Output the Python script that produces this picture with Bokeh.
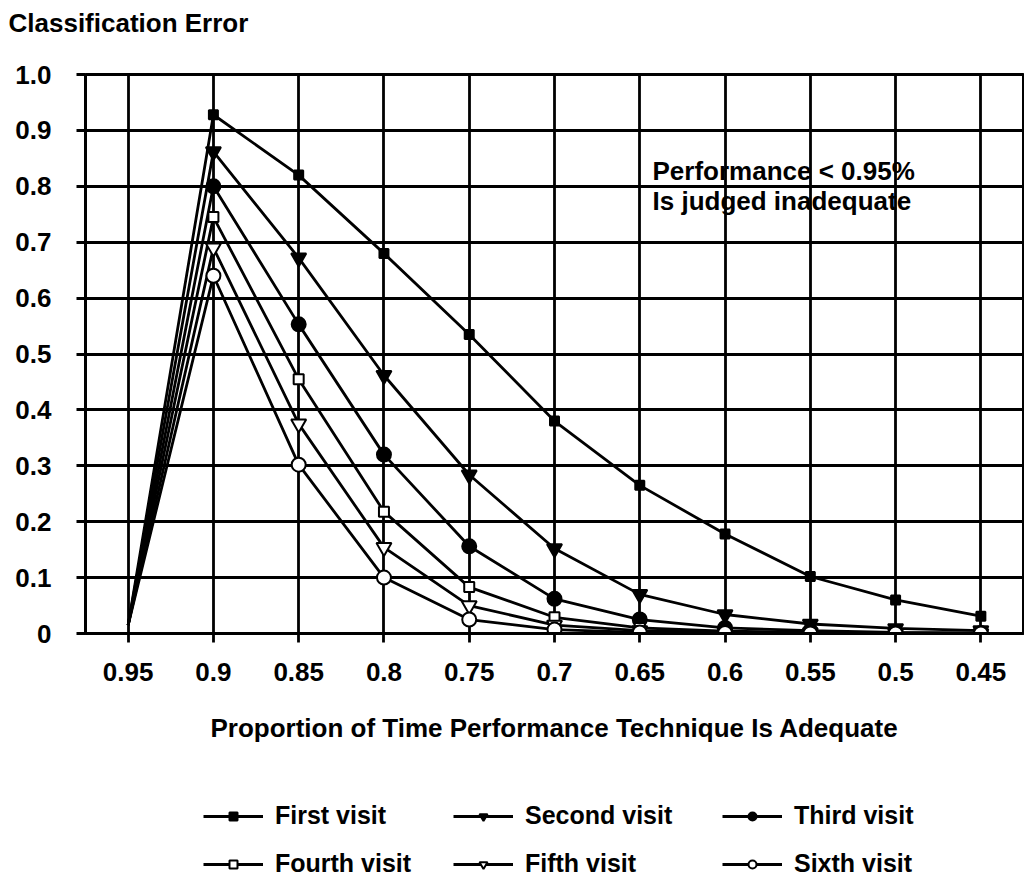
from bokeh.plotting import figure
from bokeh.layouts import column
from bokeh.models import Label, Legend, LegendItem, FixedTicker, Range1d
from bokeh.embed import file_html
from bokeh.resources import INLINE

# ---- data ----
x_labels = ["0.95", "0.9", "0.85", "0.8", "0.75", "0.7", "0.65", "0.6", "0.55", "0.5", "0.45"]
y_ticks = [0, 0.1, 0.2, 0.3, 0.4, 0.5, 0.6, 0.7, 0.8, 0.9, 1.0]
y_tick_labels = ["0", "0.1", "0.2", "0.3", "0.4", "0.5", "0.6", "0.7", "0.8", "0.9", "1.0"]

first_visit = [0.015, 0.928, 0.820, 0.680, 0.535, 0.380, 0.265, 0.178, 0.102, 0.060, 0.031]
second_visit = [0.015, 0.862, 0.672, 0.462, 0.284, 0.152, 0.070, 0.034, 0.017, 0.009, 0.005]
third_visit = [0.015, 0.800, 0.553, 0.320, 0.156, 0.062, 0.025, 0.010, 0.005, 0.002, 0.001]
fourth_visit = [0.015, 0.745, 0.455, 0.218, 0.083, 0.029, 0.010, 0.004, 0.002, 0.001, 0.000]
fifth_visit = [0.015, 0.690, 0.375, 0.154, 0.050, 0.015, 0.005, 0.002, 0.001, 0.000, 0.000]
sixth_visit = [0.015, 0.640, 0.302, 0.100, 0.025, 0.007, 0.002, 0.001, 0.000, 0.000, 0.000]

series_names = ["First visit", "Second visit", "Third visit",
                "Fourth visit", "Fifth visit", "Sixth visit"]
series_values = [first_visit, second_visit, third_visit,
                 fourth_visit, fifth_visit, sixth_visit]

title_text = "Classification Error"
x_axis_title = "Proportion of Time Performance Technique Is Adequate"
note_lines = ["Performance < 0.95%", "Is judged inadequate"]

# ---- styles ----
FONT = "Liberation Sans"
marker_styles = [
    dict(marker="square", size=9, fill_color="black"),
    dict(marker="inverted_triangle", size=15, fill_color="black"),
    dict(marker="circle", size=14, fill_color="black"),
    dict(marker="square", size=10, fill_color="white"),
    dict(marker="inverted_triangle", size=15, fill_color="white"),
    dict(marker="circle", size=14, fill_color="white"),
]


def blank_strip(height, border_top):
    f = figure(width=1024, height=height, output_backend="svg",
               toolbar_location=None, x_axis_type=None, y_axis_type=None,
               min_border_left=0, min_border_right=0,
               min_border_top=border_top, min_border_bottom=0)
    f.outline_line_color = None
    f.grid.visible = False
    f.background_fill_color = "white"
    f.border_fill_color = "white"
    return f


# ---- header strip with the chart title ----
t = blank_strip(45, 44)
t.title.text = title_text
t.title.align = "left"
t.title.vertical_align = "top"
t.title.offset = -77
t.title.standoff = 10
t.title.text_font = FONT
t.title.text_font_size = "26px"
t.title.text_font_style = "bold"
t.title.text_color = "black"

# ---- main chart ----
p = figure(x_range=x_labels, y_range=(0, 1), width=1024, height=718,
           output_backend="svg", toolbar_location=None,
           min_border_left=85, min_border_right=1, min_border_top=29,
           min_border_bottom=130)
p.background_fill_color = "white"
p.border_fill_color = "white"
p.outline_line_color = "black"
p.outline_line_width = 3
p.outline_line_alpha = 1.0

for g in (p.xgrid, p.ygrid):
    g.grid_line_color = "black"
    g.grid_line_width = 2.8
    g.grid_line_alpha = 1.0

p.yaxis.ticker = FixedTicker(ticks=y_ticks)
p.yaxis.major_label_overrides = dict(zip(y_ticks, y_tick_labels))
for ax in (p.xaxis, p.yaxis):
    ax.axis_line_color = "black"
    ax.axis_line_width = 3
    ax.major_tick_line_color = "black"
    ax.major_tick_line_width = 2.8
    ax.major_tick_in = 0
    ax.major_tick_out = 9
    ax.minor_tick_line_color = None
    ax.major_label_text_font = FONT
    ax.major_label_text_font_size = "26px"
    ax.major_label_text_font_style = "bold"
    ax.major_label_text_color = "black"
p.xaxis.major_label_standoff = 20
p.yaxis.major_label_standoff = 25
p.xaxis.axis_label = x_axis_title
p.xaxis.axis_label_text_font = FONT
p.xaxis.axis_label_text_font_size = "26px"
p.xaxis.axis_label_text_font_style = "bold"
p.xaxis.axis_label_text_color = "black"
p.xaxis.axis_label_standoff = 29

for name, vals, ms in zip(series_names, series_values, marker_styles):
    p.line(x_labels, vals, line_color="black", line_width=2.8)
    p.scatter(x_labels[1:], vals[1:], marker=ms["marker"], size=ms["size"],
              fill_color=ms["fill_color"], line_color="black", line_width=2)

for k, line in enumerate(note_lines):
    p.add_layout(Label(x=567, y=463 - 30 * k, x_units="screen", y_units="screen",
                       text=line, text_font=FONT, text_font_size="26px",
                       text_font_style="bold", text_color="black",
                       text_align="left", text_baseline="middle"))

# ---- legend strip under the chart (hidden proxies of the same series) ----
q = figure(x_range=x_labels, y_range=Range1d(0, 1), width=1024, height=118,
           output_backend="svg", toolbar_location=None,
           x_axis_type=None, y_axis_type=None,
           min_border_left=0, min_border_right=0, min_border_top=0,
           min_border_bottom=0)
q.outline_line_color = None
q.grid.visible = False
q.background_fill_color = "white"
q.border_fill_color = "white"

items = []
for name, vals, ms in zip(series_names, series_values, marker_styles):
    ln = q.line(x_labels, vals, line_color="black", line_width=2.8, visible=False)
    sc = q.scatter(x_labels[1:], vals[1:], marker=ms["marker"], size=ms["size"],
                   fill_color=ms["fill_color"], line_color="black", line_width=2,
                   visible=False)
    items.append(LegendItem(label=name, renderers=[ln, sc]))

col_x = [118, 368, 637]
for i, cx in enumerate(col_x):
    lg = Legend(items=[items[i], items[i + 3]], location=(cx, 3),
                orientation="vertical", glyph_width=60, glyph_height=20,
                label_standoff=12, spacing=19, padding=0, margin=0,
                border_line_color=None, background_fill_alpha=0,
                inactive_fill_alpha=0,
                label_text_font=FONT, label_text_font_size="25px",
                label_text_font_style="bold", label_text_color="black")
    q.add_layout(lg, "center")

layout = column(t, p, q, spacing=0)
open("out.html", "w").write(file_html(layout, INLINE))
